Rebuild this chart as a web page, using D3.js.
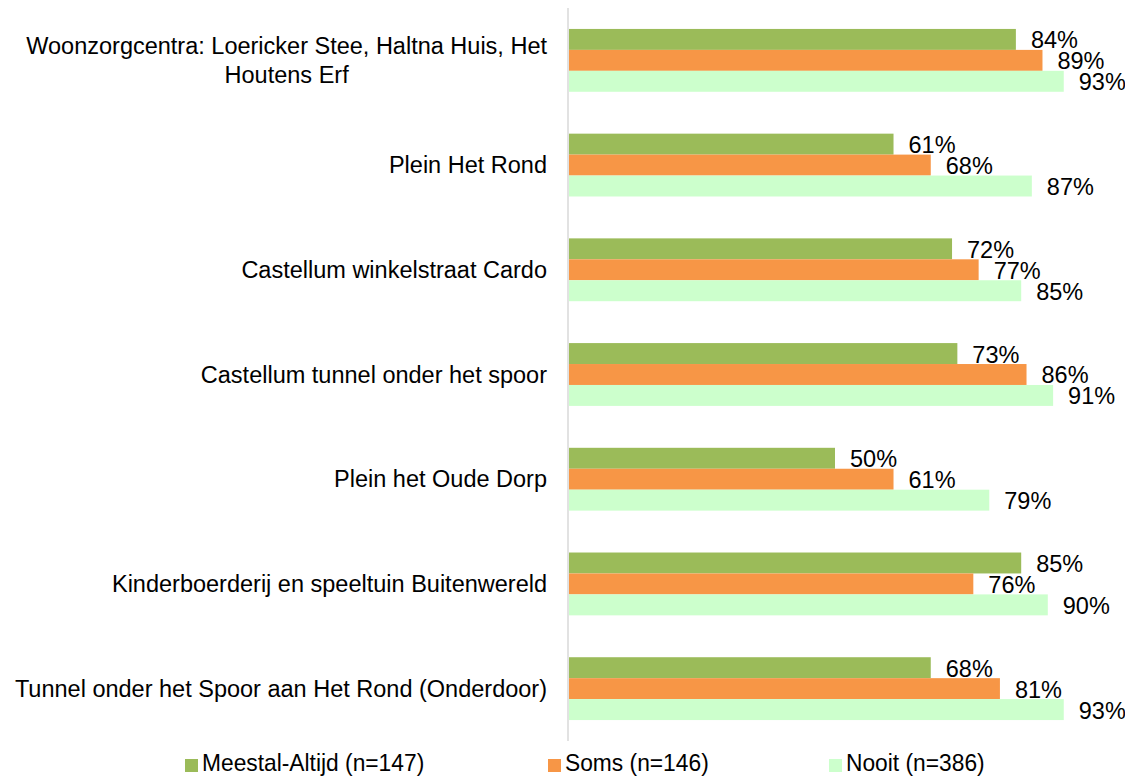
<!DOCTYPE html>
<html>
<head>
<meta charset="utf-8">
<script src="https://cdn.jsdelivr.net/npm/d3@7"></script>
<style>
  body { margin: 0; background: #fff; }
  text { font-family: "Liberation Sans", Arial, sans-serif; fill: #000; }
</style>
</head>
<body>
<script>
// categories, top to bottom
const categories = [
  "Woonzorgcentra: Loericker Stee, Haltna Huis, Het|Houtens Erf",
  "Plein Het Rond",
  "Castellum winkelstraat Cardo",
  "Castellum tunnel onder het spoor",
  "Plein het Oude Dorp",
  "Kinderboerderij en speeltuin Buitenwereld",
  "Tunnel onder het Spoor aan Het Rond (Onderdoor)"
];

const seriesNames = ["Meestal-Altijd (n=147)", "Soms (n=146)", "Nooit (n=386)"];
const meestalAltijd = [84, 61, 72, 73, 50, 85, 68];
const soms = [89, 68, 77, 86, 61, 76, 81];
const nooit = [93, 87, 85, 91, 79, 90, 93];
const colors = ["#9BBB59", "#F79646", "#CCFFCC"];

const width = 1125, height = 778;
const allSeries = [meestalAltijd, soms, nooit];
const fontSize = 23.5;

const svg = d3.select("body").append("svg")
  .attr("width", width)
  .attr("height", height);

// scales
const x = d3.scaleLinear().domain([0, 100]).range([569, 1101]);
const y = d3.scaleBand().domain(categories).range([8, 741])
  .paddingInner(0.4).paddingOuter(0.2);
const ySub = d3.scaleBand().domain(d3.range(seriesNames.length))
  .range([0, y.bandwidth()]);

// vertical axis line
svg.append("line")
  .attr("x1", 568).attr("x2", 568)
  .attr("y1", 8).attr("y2", 741)
  .attr("stroke", "#d9d9d9")
  .attr("stroke-width", 1.5);

// bars + value labels
categories.forEach((cat, i) => {
  const g = svg.append("g").attr("transform", `translate(0,${y(cat)})`);
  allSeries.forEach((vals, s) => {
    g.append("rect")
      .attr("x", x(0))
      .attr("y", ySub(s))
      .attr("width", x(vals[i]) - x(0))
      .attr("height", ySub.bandwidth())
      .attr("fill", colors[s]);
    g.append("text")
      .attr("x", x(vals[i]) + 15)
      .attr("y", ySub(s) + ySub.bandwidth() / 2 + 9)
      .style("font-size", fontSize + "px")
      .text(vals[i] + "%");
  });
});

// category labels
categories.forEach(cat => {
  const lines = cat.split("|");
  const cy = y(cat) + y.bandwidth() / 2;
  const t = svg.append("text")
    .style("font-size", fontSize + "px")
    .attr("text-anchor", "end");
  if (lines.length === 1) {
    t.attr("x", 547).attr("y", cy + 8).text(lines[0]);
  } else {
    // two centered lines in a right-aligned block
    const tmp = svg.append("text").style("font-size", fontSize + "px").text(lines[0]);
    const w = tmp.node().getComputedTextLength();
    tmp.remove();
    t.attr("text-anchor", "middle");
    lines.forEach((ln, k) => {
      t.append("tspan")
        .attr("x", 547 - w / 2)
        .attr("y", cy - 6 + k * 29)
        .text(ln);
    });
  }
});

// legend
const legendX = [185, 548, 829];
seriesNames.forEach((name, s) => {
  svg.append("rect")
    .attr("x", legendX[s]).attr("y", 759)
    .attr("width", 13).attr("height", 13)
    .attr("fill", colors[s]);
  const tx = legendX[s] + 17;
  svg.append("text")
    .attr("x", tx)
    .attr("y", 771)
    .style("font-size", "24px")
    .attr("transform", `translate(${tx},0) scale(0.95,1) translate(${-tx},0)`)
    .text(name);
});
</script>
</body>
</html>
